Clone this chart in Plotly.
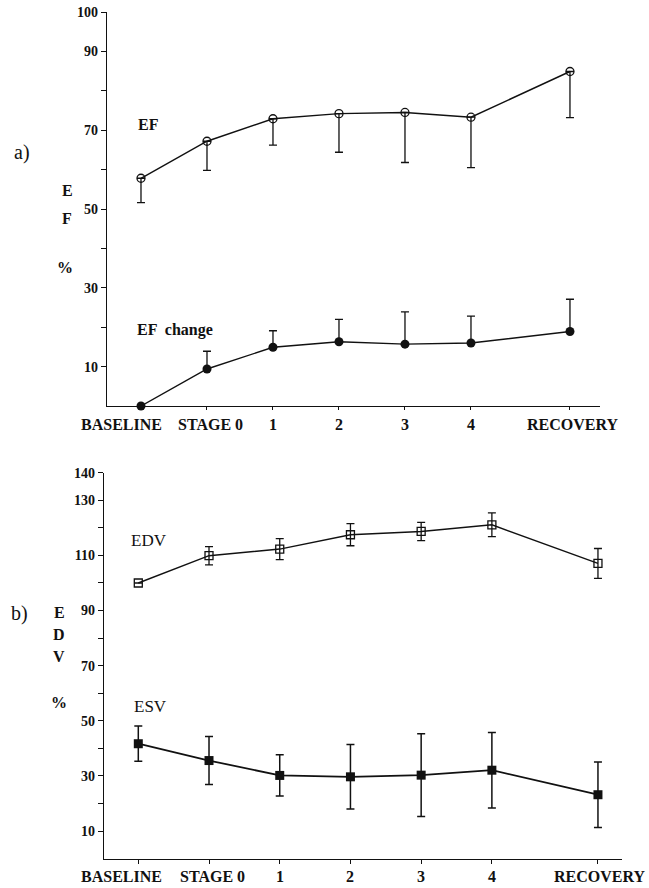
import plotly.graph_objects as go
import math

# ---- data ----
stages = ["BASELINE", "STAGE 0", "1", "2", "3", "4", "RECOVERY"]
stage_pos = [0, 1, 2, 3, 4, 5, 6.5]

ef = [57.8, 67.2, 72.9, 74.2, 74.5, 73.3, 84.9]
ef_err_minus = [6.2, 7.4, 6.7, 9.8, 12.7, 12.8, 11.7]

ef_change = [0.0, 9.4, 14.9, 16.3, 15.7, 16.0, 18.9]
ef_change_err_plus = [float("nan"), 4.5, 4.2, 5.7, 8.2, 6.8, 8.2]

edv = [100.0, 109.9, 112.3, 117.5, 118.7, 121.1, 107.1]
edv_err = [float("nan"), 3.3, 3.8, 4.0, 3.3, 4.3, 5.4]

esv = [41.7, 35.6, 30.2, 29.7, 30.3, 32.1, 23.2]
esv_err = [6.4, 8.7, 7.5, 11.7, 15.0, 13.7, 11.9]

top_ticks = [10, 20, 30, 40, 50, 60, 70, 80, 90, 100]
top_ticktext = ["10", "", "30", "", "50", "", "70", "", "90", "100"]
bot_ticks = [10, 20, 30, 40, 50, 60, 70, 80, 90, 100, 110, 120, 130, 140]
bot_ticktext = ["10", "", "30", "", "50", "", "70", "", "90", "", "110", "", "130", "140"]

W, H = 649, 888
SERIF = "Liberation Serif, Times New Roman, serif"
BLACK = "#111111"


def zeros(n):
    return [0] * n


fig = go.Figure()

line = dict(color=BLACK, width=1.4)

# EF: open circles, lower error bars only
fig.add_trace(go.Scatter(
    x=stage_pos, y=ef, mode="lines+markers", xaxis="x", yaxis="y",
    line=line, cliponaxis=False,
    marker=dict(symbol="circle-open", size=8, color=BLACK, line=dict(width=1.3, color=BLACK)),
    error_y=dict(type="data", symmetric=False, array=zeros(len(ef)), arrayminus=ef_err_minus,
                 color=BLACK, thickness=1.3, width=4),
))
# EF change: filled circles, upper error bars only
fig.add_trace(go.Scatter(
    x=stage_pos, y=ef_change, mode="lines+markers", xaxis="x", yaxis="y",
    line=line, cliponaxis=False,
    marker=dict(symbol="circle", size=9, color=BLACK),
    error_y=dict(type="data", symmetric=False, array=ef_change_err_plus,
                 arrayminus=zeros(len(ef_change)), color=BLACK, thickness=1.3, width=4),
))
# EDV: open squares
fig.add_trace(go.Scatter(
    x=stage_pos, y=edv, mode="lines+markers", xaxis="x2", yaxis="y2",
    line=line, cliponaxis=False,
    marker=dict(symbol="square-open", size=8, color=BLACK, line=dict(width=1.3, color=BLACK)),
    error_y=dict(type="data", array=edv_err, color=BLACK, thickness=1.3, width=4),
))
# ESV: filled squares
fig.add_trace(go.Scatter(
    x=stage_pos, y=esv, mode="lines+markers", xaxis="x2", yaxis="y2",
    line=dict(color=BLACK, width=1.8), cliponaxis=False,
    marker=dict(symbol="square", size=9, color=BLACK),
    error_y=dict(type="data", array=esv_err, color=BLACK, thickness=1.5, width=4),
))


def px_x(px):
    return px / W


def px_y(py):
    return 1 - py / H


axis_common = dict(showgrid=False, zeroline=False, showline=True, linecolor=BLACK,
                   linewidth=1.4, ticks="outside", tickcolor=BLACK, tickwidth=1.2,
                   automargin=False)

fig.update_layout(
    width=W, height=H,
    margin=dict(l=0, r=0, t=0, b=0),
    paper_bgcolor="white", plot_bgcolor="white",
    showlegend=False,
    font=dict(family=SERIF, color=BLACK),
    xaxis=dict(**axis_common, domain=[px_x(107), px_x(600)], range=[-0.515, 6.955],
               tickvals=stage_pos, ticktext=[""] * len(stage_pos), ticklen=3, anchor="y"),
    yaxis=dict(**axis_common, domain=[px_y(406), px_y(12)], range=[0, 100],
               tickvals=top_ticks, ticktext=top_ticktext, ticklen=5,
               tickfont=dict(family=SERIF, size=14, weight="bold"), anchor="x"),
    xaxis2=dict(**axis_common, domain=[px_x(104), px_x(622)], range=[-0.485, 6.84],
                tickvals=stage_pos, ticktext=[""] * len(stage_pos), ticklen=4, anchor="y2"),
    yaxis2=dict(**axis_common, domain=[px_y(858.7), px_y(472.7)], range=[0, 140],
                tickvals=bot_ticks, ticktext=bot_ticktext, ticklen=5,
                tickfont=dict(family=SERIF, size=14, weight="bold"), anchor="x2"),
)

ann = []
label_font = dict(family=SERIF, size=16, color=BLACK)
# x category labels
for xr, yr, shifts in (("x", "y", [-19, 4, 0, 0, 0, 0, 3]), ("x2", "y2", [-17, 3, 0, 0, 0, 0, 2])):
    for name, pos, sh in zip(stages, stage_pos, shifts):
        ann.append(dict(x=pos, y=0, xref=xr, yref=yr, text=f"<b>{name}</b>", showarrow=False,
                        xanchor="center", yanchor="middle", yshift=-18, xshift=sh, font=label_font))

def paper_text(text, px, py, size=16, bold=True):
    t = f"<b>{text}</b>" if bold else text
    return dict(x=px_x(px), y=px_y(py), xref="paper", yref="paper", text=t, showarrow=False,
                xanchor="center", yanchor="middle", font=dict(family=SERIF, size=size, color=BLACK))

ann += [
    paper_text("a)", 22, 152, size=20, bold=False),
    paper_text("E", 67, 190),
    paper_text("F", 67, 219),
    paper_text("%", 65, 267),
    paper_text("EF", 148, 125),
    paper_text("EF  change", 175, 330),
    paper_text("b)", 19, 613, size=20, bold=False),
    paper_text("E", 59, 612),
    paper_text("D", 59, 634),
    paper_text("V", 59, 656),
    paper_text("%", 59, 702),
    paper_text("EDV", 149, 540, size=17, bold=False),
    paper_text("ESV", 150, 706, size=17, bold=False),
]
fig.update_layout(annotations=ann)

fig.write_html("out.html")
